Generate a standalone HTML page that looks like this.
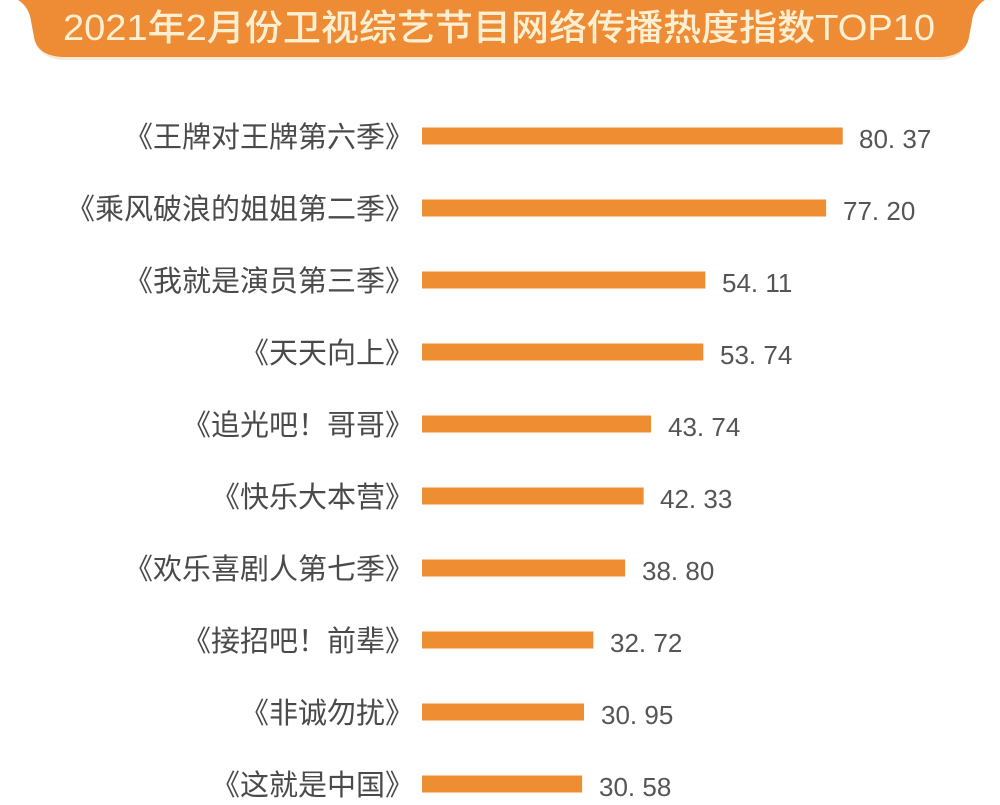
<!DOCTYPE html>
<html>
<head>
<meta charset="utf-8">
<style>
  html,body{margin:0;padding:0;background:#ffffff;}
  svg{display:block;}
  .lbl{font-family:"Liberation Sans","Noto Sans CJK SC",sans-serif;font-size:29px;fill:#4a4a4a;}
  .val{font-family:"Liberation Sans","Noto Sans CJK SC",sans-serif;font-size:26px;fill:#555555;}
  .ttl{font-family:"Liberation Sans","Noto Sans CJK SC",sans-serif;font-size:36px;fill:#FDF0D2;font-weight:500;}
</style>
</head>
<body>
<svg width="1000" height="805" viewBox="0 0 1000 805" xmlns="http://www.w3.org/2000/svg">
  <rect width="1000" height="805" fill="#ffffff"/>
  <!-- banner shadow -->
  <path d="M18,0 C25,4 30,12 31,21 L34,37 C36,50 45,59 63,60 L940,60 C958,59 967,50 969,37 L972,21 C973,12 978,4 985,0 Z" fill="#F7E9D6"/>
  <!-- banner -->
  <path d="M18,0 C25,4 30,12 31,21 L34,37 C36,49 45,56 62,57 L941,57 C958,56 967,49 969,37 L972,21 C973,12 978,4 985,0 Z" fill="#EE8C36"/>
  <text class="ttl" x="63" y="40" textLength="872" lengthAdjust="spacingAndGlyphs">2021年2月份卫视综艺节目网络传播热度指数TOP10</text>

  <!-- rows -->
  <g>
    <text class="lbl" x="414" y="147" text-anchor="end">《王牌对王牌第六季》</text>
    <rect x="422" y="127.5" width="420.7" height="17" fill="#EF8D33"/>
    <text class="val" x="859" y="148">80. 37</text>

    <text class="lbl" x="414" y="219" text-anchor="end">《乘风破浪的姐姐第二季》</text>
    <rect x="422" y="199.5" width="404.1" height="17" fill="#EF8D33"/>
    <text class="val" x="843" y="220">77. 20</text>

    <text class="lbl" x="414" y="291" text-anchor="end">《我就是演员第三季》</text>
    <rect x="422" y="271.5" width="283.3" height="17" fill="#EF8D33"/>
    <text class="val" x="722" y="292">54. 11</text>

    <text class="lbl" x="414" y="363" text-anchor="end">《天天向上》</text>
    <rect x="422" y="343.5" width="281.3" height="17" fill="#EF8D33"/>
    <text class="val" x="720" y="364">53. 74</text>

    <text class="lbl" x="414" y="435" text-anchor="end">《追光吧！哥哥》</text>
    <rect x="422" y="415.5" width="229" height="17" fill="#EF8D33"/>
    <text class="val" x="668" y="436">43. 74</text>

    <text class="lbl" x="414" y="507" text-anchor="end">《快乐大本营》</text>
    <rect x="422" y="487.5" width="221.6" height="17" fill="#EF8D33"/>
    <text class="val" x="660" y="508">42. 33</text>

    <text class="lbl" x="414" y="579" text-anchor="end">《欢乐喜剧人第七季》</text>
    <rect x="422" y="559.5" width="203.1" height="17" fill="#EF8D33"/>
    <text class="val" x="642" y="580">38. 80</text>

    <text class="lbl" x="414" y="651" text-anchor="end">《接招吧！前辈》</text>
    <rect x="422" y="631.5" width="171.3" height="17" fill="#EF8D33"/>
    <text class="val" x="610" y="652">32. 72</text>

    <text class="lbl" x="414" y="723" text-anchor="end">《非诚勿扰》</text>
    <rect x="422" y="703.5" width="162" height="17" fill="#EF8D33"/>
    <text class="val" x="601" y="724">30. 95</text>

    <text class="lbl" x="414" y="795" text-anchor="end">《这就是中国》</text>
    <rect x="422" y="775.5" width="160.1" height="17" fill="#EF8D33"/>
    <text class="val" x="599" y="796">30. 58</text>
  </g>
</svg>
</body>
</html>
